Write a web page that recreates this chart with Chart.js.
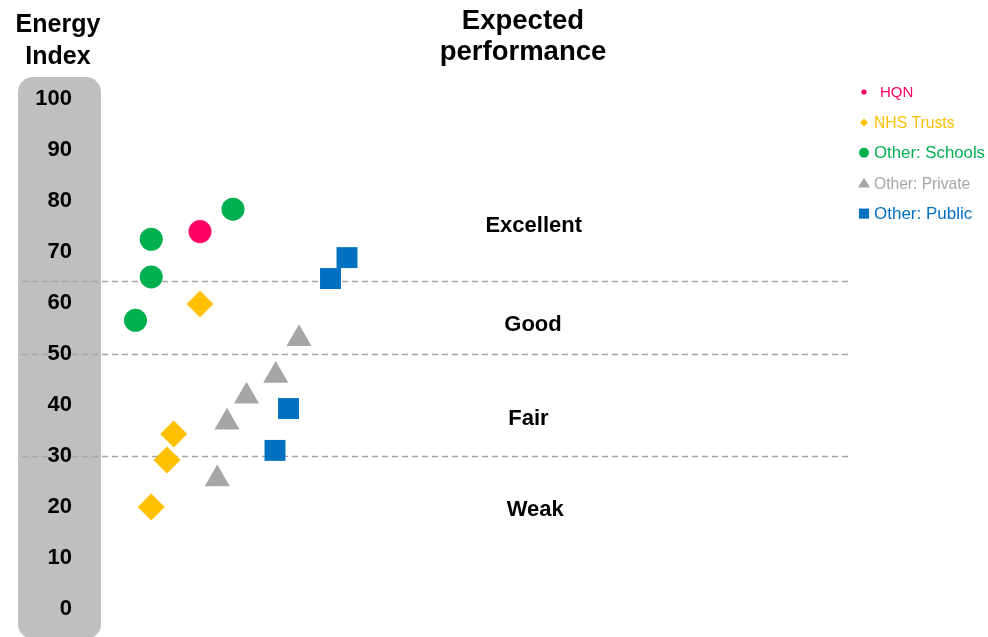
<!DOCTYPE html>
<html><head><meta charset="utf-8">
<script src="https://cdn.jsdelivr.net/npm/chart.js@4/dist/chart.umd.min.js"></script>
<style>html,body{margin:0;padding:0;background:#fff;overflow:hidden}#wrap{width:988px;height:637px;position:relative}</style>
</head><body><div id="wrap"><canvas id="c" width="988" height="637"></canvas></div>
<script>
// ---- data ----
const seriesNames = ['HQN', 'NHS Trusts', 'Other: Schools', 'Other: Private', 'Other: Public'];
const hqnX = [13.2];
const hqnY = [74.0];
const nhsX = [13.2, 9.7, 8.8, 6.7];
const nhsY = [59.8, 34.3, 29.2, 20.0];
const schoolsX = [6.7, 6.7, 4.6, 17.6];
const schoolsY = [72.5, 65.1, 56.6, 78.4];
const privateX = [26.4, 23.3, 19.4, 16.8, 15.5];
const privateY = [53.0, 45.8, 41.7, 36.6, 25.5];
const publicX = [32.8, 30.6, 25.0, 23.2];
const publicY = [68.9, 64.8, 39.3, 31.1];
const tickLabels = ['0', '10', '20', '30', '40', '50', '60', '70', '80', '90', '100'];
const bandLimits = [30, 50, 64.4];
const bandLabels = ['Weak', 'Fair', 'Good', 'Excellent'];
const bandLabelY = [19.7, 37.6, 56.1, 75.5];
const bandLabelX = [57.9, 57.0, 57.6, 57.7];
const yTitle = ['Energy', 'Index'];
const chartTitle = ['Expected', 'performance'];

// ---- styles ----
const colors = ['#FF0066', '#FFC000', '#00B050', '#A6A6A6', '#0070C0'];
const styles = ['circle', 'rectRot', 'circle', 'triangle', 'rect'];
const radii = [11.5, 13.5, 11.5, 14.5, 14.8];
const legendRadii = [2.6, 4, 5, 6, 7];
const legendFont = [15, 15.7, 16.8, 15.6, 17];
const FONT = '"Liberation Sans", Arial, sans-serif';

function pts(xs, ys) { return xs.map((x, i) => ({x: x, y: ys[i]})); }
const xs = [hqnX, nhsX, schoolsX, privateX, publicX];
const ys = [hqnY, nhsY, schoolsY, privateY, publicY];

const datasets = seriesNames.map((name, i) => ({
  label: name,
  data: pts(xs[i], ys[i]),
  backgroundColor: colors[i],
  borderColor: colors[i],
  borderWidth: 0,
  pointStyle: styles[i],
  pointRadius: radii[i],
  pointHoverRadius: radii[i]
}));

function marker(ctx, style, x, y, r) {
  ctx.beginPath();
  if (style === 'circle') { ctx.arc(x, y, r, 0, Math.PI * 2); }
  else if (style === 'rectRot') { ctx.moveTo(x - r, y); ctx.lineTo(x, y - r); ctx.lineTo(x + r, y); ctx.lineTo(x, y + r); ctx.closePath(); }
  else if (style === 'triangle') { const h = r * 0.9; ctx.moveTo(x, y - h); ctx.lineTo(x + r, y + h * 0.8); ctx.lineTo(x - r, y + h * 0.8); ctx.closePath(); }
  else { ctx.rect(x - r * 0.72, y - r * 0.72, r * 1.44, r * 1.44); }
  ctx.fill();
}

const decor = {
  id: 'decor',
  beforeDraw(chart) {
    const {ctx, chartArea, scales} = chart;
    const y = scales.y;
    ctx.save();
    const left = y.left, top = y.getPixelForValue(100) - 22;
    ctx.fillStyle = '#BFBFBF';
    ctx.beginPath();
    ctx.roundRect(left, top, chartArea.left - left, chart.height - top + 2, 15);
    ctx.fill();
    ctx.strokeStyle = '#A6A6A6';
    ctx.lineWidth = 1.3;
    ctx.setLineDash([6, 4]);
    bandLimits.forEach(v => {
      const py = Math.round(y.getPixelForValue(v)) + 0.5;
      ctx.beginPath();
      ctx.moveTo(left + 4, py);
      ctx.lineTo(chartArea.right, py);
      ctx.stroke();
    });
    ctx.restore();
  },
  afterDraw(chart) {
    const {ctx, scales} = chart;
    ctx.save();
    ctx.fillStyle = '#000';
    ctx.textAlign = 'center';
    ctx.textBaseline = 'alphabetic';
    ctx.font = 'bold 22px ' + FONT;
    bandLabels.forEach((t, i) => {
      ctx.fillText(t, scales.x.getPixelForValue(bandLabelX[i]), scales.y.getPixelForValue(bandLabelY[i]) + 22 * 0.358);
    });
    ctx.font = 'bold 25px ' + FONT;
    ctx.fillText(yTitle[0], 58, 32);
    ctx.fillText(yTitle[1], 58, 64);
    ctx.font = 'bold 27.5px ' + FONT;
    ctx.fillText(chartTitle[0], 523, 29);
    ctx.fillText(chartTitle[1], 523, 60);
    ctx.textAlign = 'left';
    ctx.textBaseline = 'middle';
    chart.data.datasets.forEach((ds, i) => {
      const cy = 92 + i * 30.4;
      ctx.fillStyle = ds.backgroundColor;
      marker(ctx, ds.pointStyle, 864, cy, legendRadii[i]);
      ctx.font = legendFont[i] + 'px ' + FONT;
      ctx.fillText(ds.label, i === 0 ? 880 : 874, cy + 1);
    });
    ctx.restore();
  }
};

new Chart(document.getElementById('c'), {
  type: 'scatter',
  data: {datasets: datasets},
  options: {
    responsive: false,
    animation: false,
    devicePixelRatio: 1,
    layout: {padding: {left: 18, right: 137, top: 99, bottom: 28}},
    plugins: {legend: {display: false}, tooltip: {enabled: false}, title: {display: false}},
    scales: {
      x: {type: 'linear', min: 0, max: 100, display: false},
      y: {
        min: 0, max: 100,
        afterFit(s) { s.width = 83; s.paddingTop = 0; s.paddingBottom = 0; },
        grid: {display: false, drawTicks: false},
        border: {display: false},
        ticks: {
          stepSize: 10, padding: 29, color: '#000',
          font: {family: FONT, size: 22, weight: 'bold'},
          callback: (v, i) => tickLabels[i]
        }
      }
    }
  },
  plugins: [decor]
});
</script></body></html>
